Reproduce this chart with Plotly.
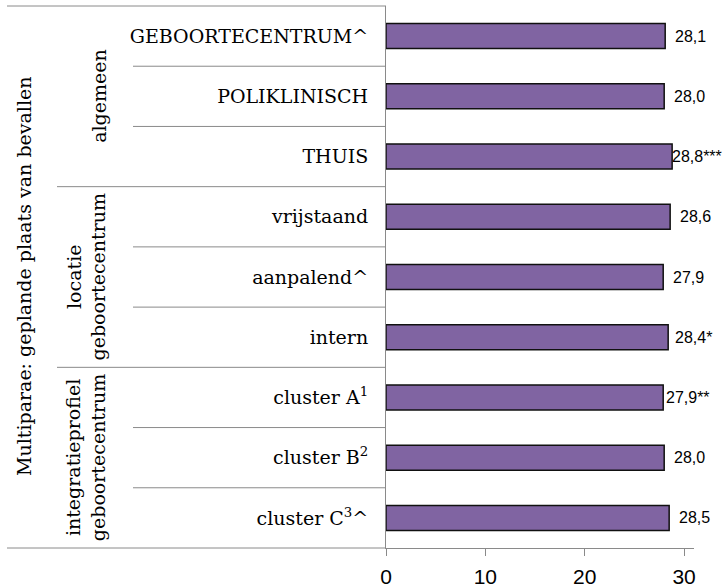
import plotly.graph_objects as go

# ---- data ----
categories = ["GEBOORTECENTRUM^", "POLIKLINISCH", "THUIS",
              "vrijstaand", "aanpalend^", "intern",
              "cluster A<sup>1</sup>", "cluster B<sup>2</sup>", "cluster C<sup>3</sup>^"]
values = [28.1, 28.0, 28.8, 28.6, 27.9, 28.4, 27.9, 28.0, 28.5]
value_labels = ["28,1", "28,0", "28,8***", "28,6", "27,9", "28,4*", "27,9**", "28,0", "28,5"]
group_names = ["algemeen", "locatie<br>geboortecentrum", "integratieprofiel<br>geboortecentrum"]
group_sizes = [3, 3, 3]
outer_title = "Multiparae: geplande plaats van bevallen"
x_ticks = [0, 10, 20, 30]

W, H = 725, 587
ML, MR, MT, MB = 386, 31, 6, 39
PW = W - ML - MR
GRID = "#8a8a8a"
PURPLE = "#8064A2"
SERIF = "DejaVu Serif"
SANS = "Liberation Sans"

def px2paper(px):
    return (px - ML) / PW

n = len(categories)

fig = go.Figure()
fig.add_trace(go.Bar(
    x=values, y=categories, orientation="h",
    marker=dict(color=PURPLE, line=dict(color="#111111", width=1.5)),
    showlegend=False, hoverinfo="skip",
))

# value labels
for v, c, t in zip(values, categories, value_labels):
    fig.add_annotation(x=v, y=c, xref="x", yref="y", text=t, showarrow=False,
                       xanchor="center", yanchor="middle", xshift=25,
                       font=dict(family=SANS, size=16, color="black"))

shapes = []
def hline(k, x0px):
    yp = 1 - k / n
    shapes.append(dict(type="line", xref="paper", yref="paper",
                       x0=px2paper(x0px), x1=0, y0=yp, y1=yp,
                       line=dict(color=GRID, width=1)))

# outer boundaries
hline(0, 7)
hline(n, 7)
start = 0
for gi, (g, s) in enumerate(zip(group_names, group_sizes)):
    for k in range(start + 1, start + s):
        hline(k, 133)
    if gi > 0:
        hline(start, 57)
    yc = 1 - (start + s / 2) / n
    xc = 99.5 if "<br>" not in g else 85.5
    fig.add_annotation(x=px2paper(xc), y=yc, xref="paper", yref="paper", text=g,
                       textangle=-90, showarrow=False, xanchor="center", yanchor="middle",
                       font=dict(family=SERIF, size=19, color="black"))
    start += s

fig.add_annotation(x=px2paper(24), y=0.5, xref="paper", yref="paper", text=outer_title,
                   textangle=-90, showarrow=False, xanchor="center", yanchor="middle",
                   font=dict(family=SERIF, size=19, color="black"))

fig.update_layout(
    width=W, height=H,
    margin=dict(l=ML, r=MR, t=MT, b=MB, pad=0, autoexpand=False),
    paper_bgcolor="white", plot_bgcolor="white",
    bargap=0.585,
    shapes=shapes,
    xaxis=dict(range=[0, 31], tickvals=x_ticks, ticktext=[str(t) for t in x_ticks],
               showgrid=False, zeroline=False, showline=True, linecolor=GRID, linewidth=1,
               ticks="outside", ticklen=7, tickcolor=GRID, tickwidth=1, automargin=False,
               tickfont=dict(family=SANS, size=21, color="black"), ticklabelstandoff=3),
    yaxis=dict(type="category", autorange="reversed", showgrid=False, zeroline=False,
               showline=True, linecolor=GRID, linewidth=1, ticks="", automargin=False,
               tickfont=dict(family=SERIF, size=19, color="black"), ticklabelstandoff=13),
)

fig.write_html("out.html", config={"displayModeBar": False},
               post_script="document.body.style.margin='0';document.body.style.overflow='hidden';")
